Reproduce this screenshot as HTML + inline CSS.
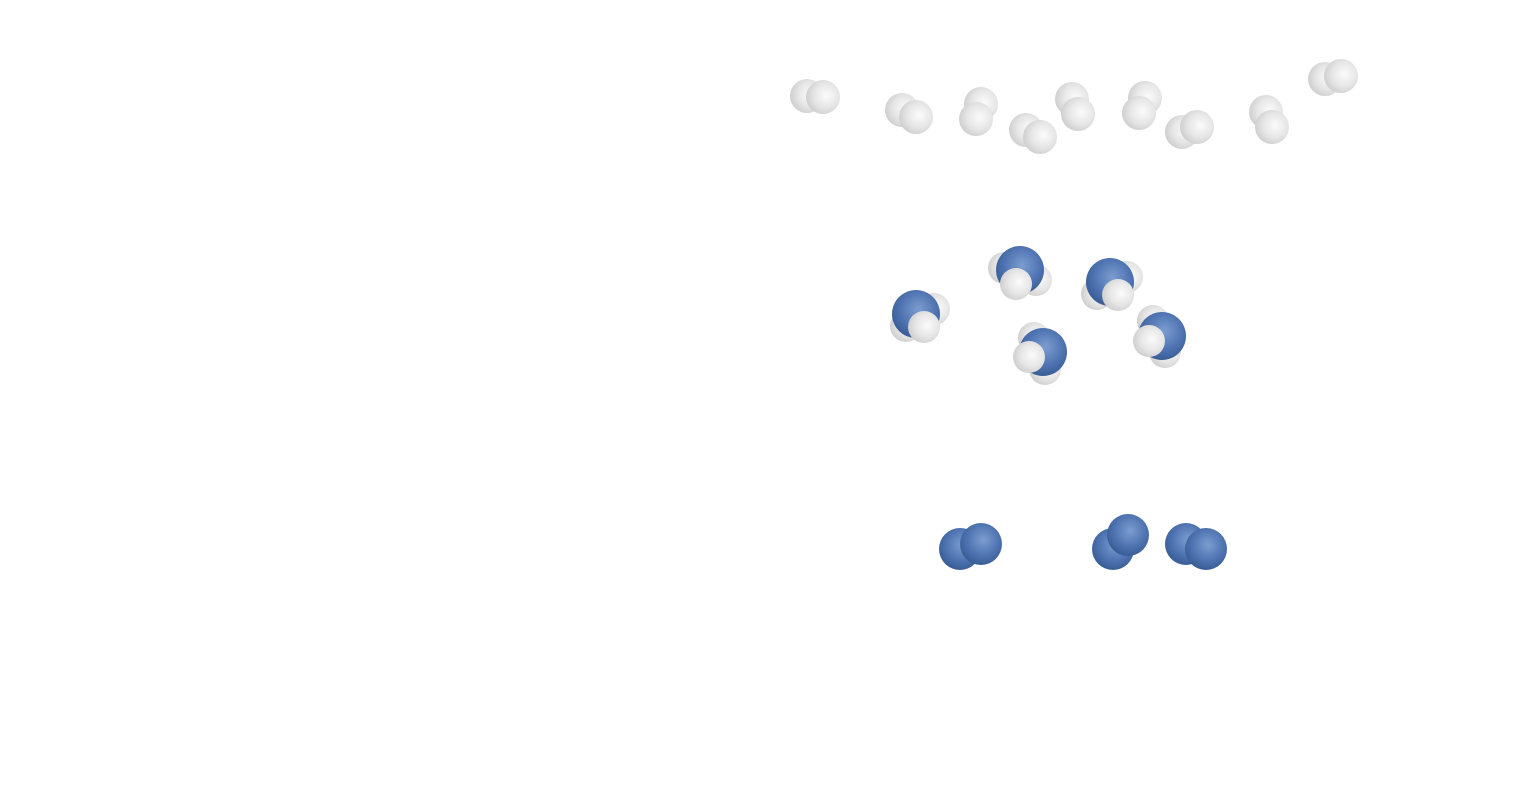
<!DOCTYPE html>
<html><head><meta charset="utf-8"><style>html,body{margin:0;padding:0;background:#fff;width:1524px;height:800px;overflow:hidden}</style></head>
<body>
<svg id="scene" width="1524" height="800" viewBox="0 0 1524 800">
<defs>
<radialGradient id="gH" cx="0.6" cy="0.45" r="0.6"><stop offset="0" stop-color="#fbfbfb"/><stop offset="0.6" stop-color="#e6e6e6"/><stop offset="1" stop-color="#cfcfcf"/></radialGradient>
<radialGradient id="gN" cx="0.55" cy="0.4" r="0.65"><stop offset="0" stop-color="#7c9dd0"/><stop offset="0.6" stop-color="#4d72b0"/><stop offset="1" stop-color="#34598f"/></radialGradient>
</defs>
</svg>
<script>
// hydrogen molecules: pairs of atom centers
const h2 = [[807,96,823,97],[902,110,916,117],[981,104,976,119],[1026,130,1040,137],[1072,99,1078,114],[1145,98,1139,113],[1182,132,1197,127],[1266,112,1272,127],[1325,79,1341,76]];
// ammonia: back H1, back H2, N, front H
const nh3 = [[906,326,934,309,916,314,924,327],[1004,268,1036,280,1020,270,1016,284],[1097,294,1127,277,1110,282,1118,295],[1034,338,1045,369,1043,352,1029,357],[1153,321,1165,352,1162,336,1149,341]];
// nitrogen molecules
const n2 = [[960,549,981,544],[1113,549,1128,535],[1186,544,1206,549]];
const svg=document.getElementById('scene');
const NS='http://www.w3.org/2000/svg';
function atom(g,x,y,r,type){const c=document.createElementNS(NS,'circle');
c.setAttribute('cx',x);c.setAttribute('cy',y);c.setAttribute('r',r);
c.setAttribute('fill',type==='H'?'url(#gH)':'url(#gN)');


g.appendChild(c);}
function grp(name){const g=document.createElementNS(NS,'g');


svg.appendChild(g);return g;}
h2.forEach(m=>{const g=grp('h2-molecule');atom(g,m[0],m[1],17,'H');atom(g,m[2],m[3],17,'H');});
nh3.forEach(m=>{const g=grp('nh3-molecule');atom(g,m[0],m[1],16,'H');atom(g,m[2],m[3],16,'H');atom(g,m[4],m[5],24,'N');atom(g,m[6],m[7],16,'H');});
n2.forEach(m=>{const g=grp('n2-molecule');atom(g,m[0],m[1],21,'N');atom(g,m[2],m[3],21,'N');});
</script>
</body></html>
